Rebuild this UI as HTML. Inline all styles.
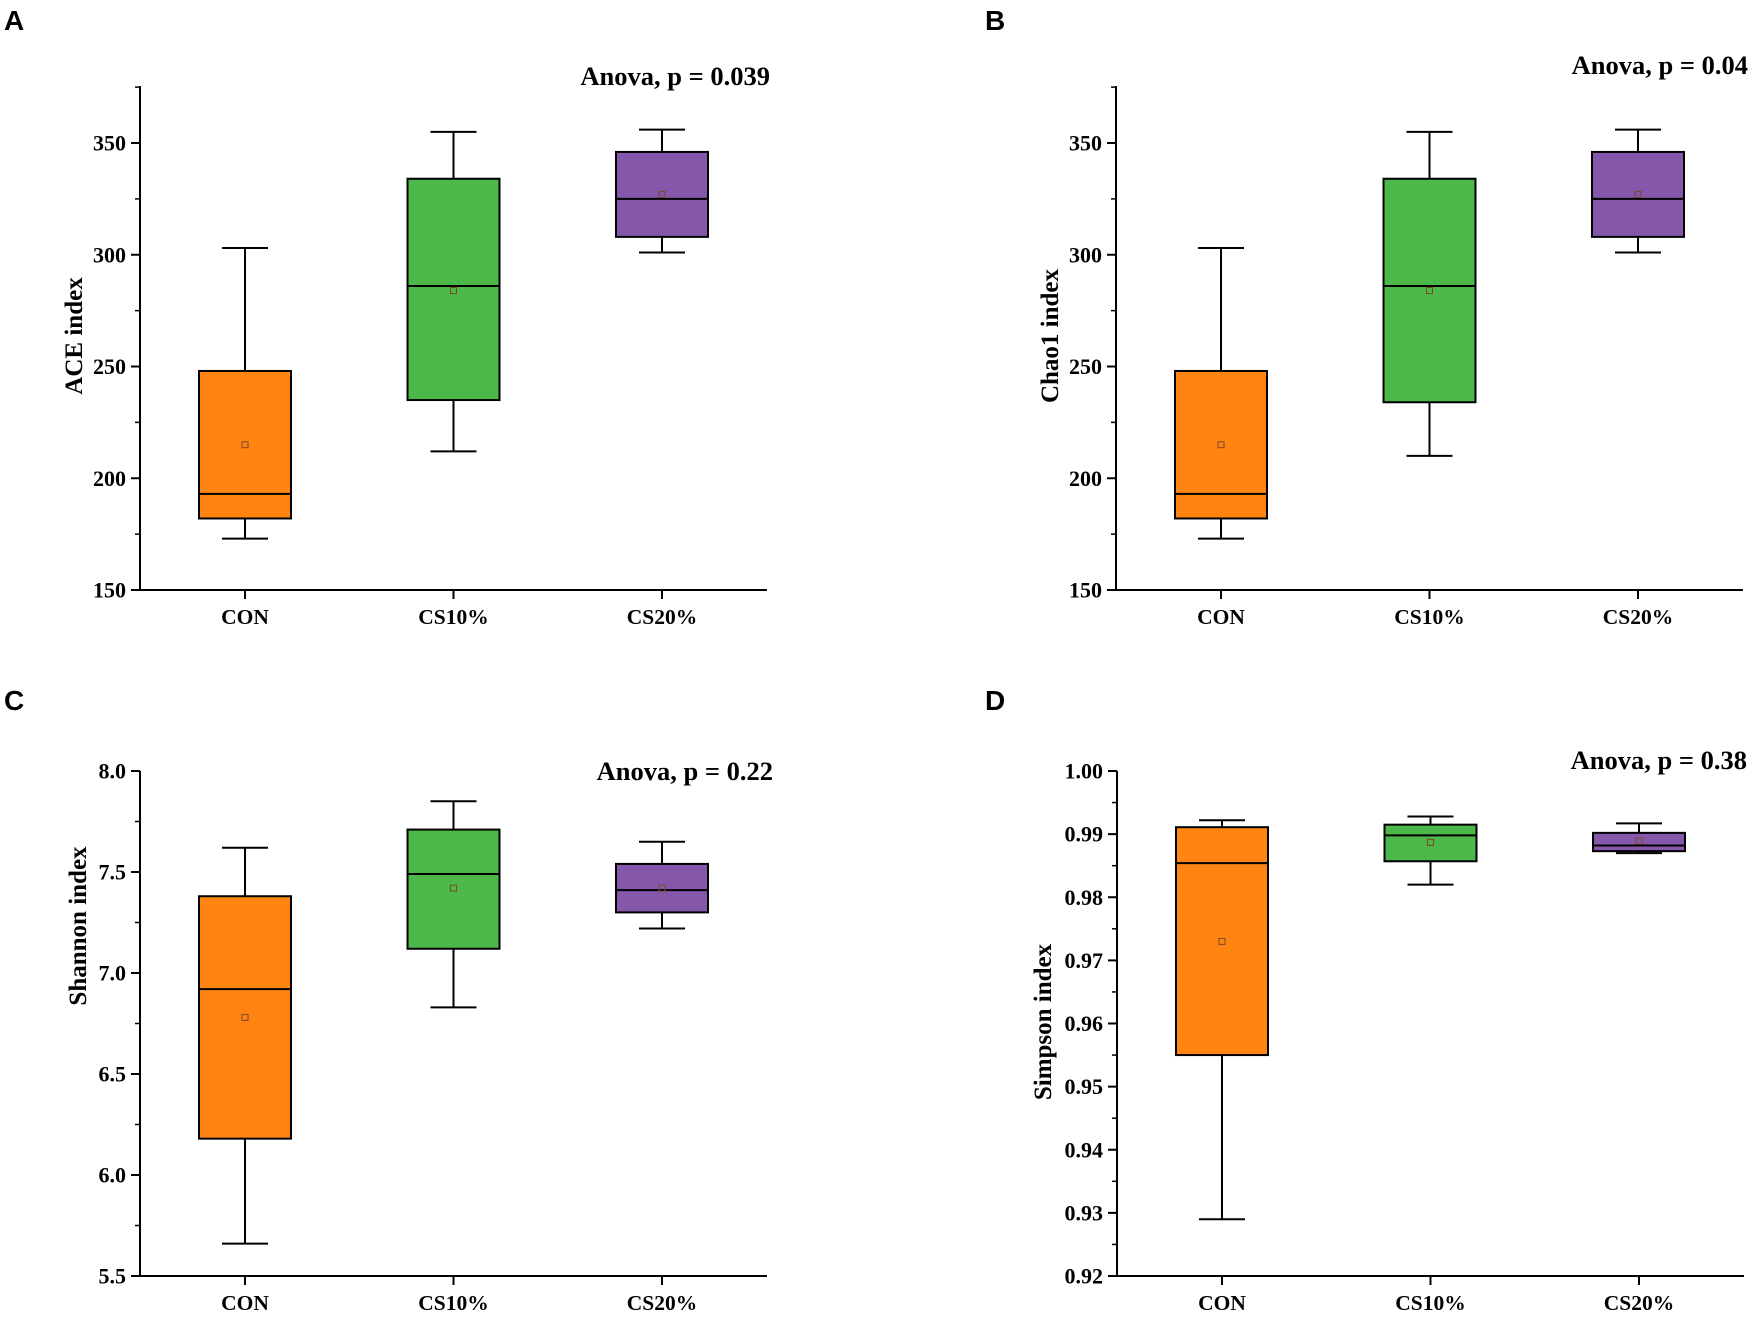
<!DOCTYPE html>
<html><head><meta charset="utf-8"><style>
html,body{margin:0;padding:0;background:#fff;}
svg{display:block;}
text{font-family:"Liberation Serif",serif;font-weight:bold;fill:#000;}
.lbl{font-family:"Liberation Sans",sans-serif;font-weight:bold;}
</style></head><body>
<svg id="fig" width="1755" height="1320" viewBox="0 0 1755 1320" xmlns="http://www.w3.org/2000/svg"></svg>
<script>
const categories = ["CON", "CS10%", "CS20%"];
const colors = ["#FF8412", "#4CB84A", "#8557AA"];
// panel A: ACE
const aceMin = [173, 212, 301];
const aceQ1 = [182, 235, 308];
const aceMed = [193, 286, 325];
const aceQ3 = [248, 334, 346];
const aceMax = [303, 355, 356];
const aceMean = [215, 284, 327];
const aceTicks = ["150", "200", "250", "300", "350"];
// panel B: Chao1
const chaoMin = [173, 210, 301];
const chaoQ1 = [182, 234, 308];
const chaoMed = [193, 286, 325];
const chaoQ3 = [248, 334, 346];
const chaoMax = [303, 355, 356];
const chaoMean = [215, 284, 327];
const chaoTicks = ["150", "200", "250", "300", "350"];
// panel C: Shannon
const shanMin = [5.66, 6.83, 7.22];
const shanQ1 = [6.18, 7.12, 7.30];
const shanMed = [6.92, 7.49, 7.41];
const shanQ3 = [7.38, 7.71, 7.54];
const shanMax = [7.62, 7.85, 7.65];
const shanMean = [6.78, 7.42, 7.42];
const shanTicks = ["5.5", "6.0", "6.5", "7.0", "7.5", "8.0"];
// panel D: Simpson
const simMin = [0.929, 0.982, 0.9870];
const simQ1 = [0.955, 0.9857, 0.9873];
const simMed = [0.9854, 0.9898, 0.9882];
const simQ3 = [0.9911, 0.9915, 0.9902];
const simMax = [0.9922, 0.9928, 0.9917];
const simMean = [0.973, 0.9887, 0.9889];
const simTicks = ["0.92", "0.93", "0.94", "0.95", "0.96", "0.97", "0.98", "0.99", "1.00"];

const NS = "http://www.w3.org/2000/svg";
const svg = document.getElementById("fig");
function mk(tag, attrs, parent) {
  const e = document.createElementNS(NS, tag);
  for (const k in attrs) e.setAttribute(k, attrs[k]);
  (parent || svg).appendChild(e);
  return e;
}

function panel(o) {
  const g = mk("g", {});
  
  
  const yScale = v => o.yBot - (v - o.vMin) / (o.vMax - o.vMin) * (o.yBot - o.yTopTick);
  const xScale = i => o.ax + 105 + i * 208.5;
  const L = mk("text", {x: o.lx, y: o.ly, "font-size": 28, class: "lbl"}, g);
  L.textContent = o.letter;
  
  
  const ya = mk("line", {x1: o.ax, y1: o.yAxisTop, x2: o.ax, y2: o.yBot, stroke: "#000", "stroke-width": 2}, g);
  
  
  const xa = mk("line", {x1: o.ax - 9, y1: o.yBot, x2: o.ax + 627, y2: o.yBot, stroke: "#000", "stroke-width": 2}, g);
  
  
  o.ticks.forEach((t, i) => {
    const v = parseFloat(t);
    const y = yScale(v);
    mk("line", {x1: o.ax - 9, y1: y, x2: o.ax, y2: y, stroke: "#000", "stroke-width": 2}, g);
    const tx = mk("text", {x: o.ax - 14, y: y + 7.5, "font-size": 22, "text-anchor": "end"}, g);
    tx.textContent = t;
    
    
    const mv = v + o.minorStep;
    if (mv <= o.vAxisTop + 1e-9) {
      const my = yScale(mv);
      mk("line", {x1: o.ax - 5, y1: my, x2: o.ax, y2: my, stroke: "#000", "stroke-width": 1.5}, g);
    }
  });
  const yt = mk("text", {x: 0, y: 0, "font-size": 25, "text-anchor": "middle",
    transform: `translate(${o.ytx},${o.yty}) rotate(-90)`}, g);
  yt.textContent = o.ytitle;
  
  
  const an = mk("text", {x: o.anx, y: o.any, "font-size": 26.5, "text-anchor": "end"}, g);
  an.textContent = o.anova;
  
  
  categories.forEach((c, i) => {
    const x = xScale(i);
    mk("line", {x1: x, y1: o.yBot, x2: x, y2: o.yBot + 9, stroke: "#000", "stroke-width": 2}, g);
    const cl = mk("text", {x: x, y: o.yBot + 34, "font-size": 21.5, "text-anchor": "middle"}, g);
    cl.textContent = c;
    
    
    const bg = mk("g", {}, g);
    
    
    const hw = 46, cw = 23;
    const yMin = yScale(o.min[i]), yMax = yScale(o.max[i]), yQ1 = yScale(o.q1[i]), yQ3 = yScale(o.q3[i]);
    mk("line", {x1: x, y1: yMax, x2: x, y2: yQ3, stroke: "#000", "stroke-width": 2}, bg);
    mk("line", {x1: x, y1: yQ1, x2: x, y2: yMin, stroke: "#000", "stroke-width": 2}, bg);
    mk("line", {x1: x - cw, y1: yMax, x2: x + cw, y2: yMax, stroke: "#000", "stroke-width": 2}, bg);
    mk("line", {x1: x - cw, y1: yMin, x2: x + cw, y2: yMin, stroke: "#000", "stroke-width": 2}, bg);
    mk("rect", {x: x - hw, y: yQ3, width: 2 * hw, height: yQ1 - yQ3, fill: colors[i], stroke: "#000", "stroke-width": 2}, bg);
    const ym = yScale(o.med[i]);
    mk("line", {x1: x - hw, y1: ym, x2: x + hw, y2: ym, stroke: "#000", "stroke-width": 2}, bg);
    const yMean = yScale(o.mean[i]);
    mk("rect", {x: x - 3, y: yMean - 3, width: 6, height: 6, fill: "none", stroke: "#7a4a2a", "stroke-width": 1}, bg);
  });
}

panel({id: "ace", letter: "A", lx: 4, ly: 30, ax: 140, yBot: 590, yTopTick: 143, yAxisTop: 86, vMin: 150, vMax: 350, vAxisTop: 375, minorStep: 25,
  ticks: aceTicks, min: aceMin, q1: aceQ1, med: aceMed, q3: aceQ3, max: aceMax, mean: aceMean,
  ytitle: "ACE index", ytx: 82, yty: 336, anova: "Anova, p = 0.039", anx: 770, any: 85});
panel({id: "chao1", letter: "B", lx: 985, ly: 30, ax: 1116, yBot: 590, yTopTick: 143, yAxisTop: 86, vMin: 150, vMax: 350, vAxisTop: 375, minorStep: 25,
  ticks: chaoTicks, min: chaoMin, q1: chaoQ1, med: chaoMed, q3: chaoQ3, max: chaoMax, mean: chaoMean,
  ytitle: "Chao1 index", ytx: 1058, yty: 336, anova: "Anova, p = 0.04", anx: 1748, any: 74});
panel({id: "shannon", letter: "C", lx: 4, ly: 710, ax: 140, yBot: 1276, yTopTick: 771, yAxisTop: 771, vMin: 5.5, vMax: 8.0, vAxisTop: 8.0, minorStep: 0.25,
  ticks: shanTicks, min: shanMin, q1: shanQ1, med: shanMed, q3: shanQ3, max: shanMax, mean: shanMean,
  ytitle: "Shannon index", ytx: 86, yty: 926, anova: "Anova, p = 0.22", anx: 773, any: 780});
panel({id: "simpson", letter: "D", lx: 985, ly: 710, ax: 1117, yBot: 1276, yTopTick: 771, yAxisTop: 771, vMin: 0.92, vMax: 1.00, vAxisTop: 1.00, minorStep: 0.005,
  ticks: simTicks, min: simMin, q1: simQ1, med: simMed, q3: simQ3, max: simMax, mean: simMean,
  ytitle: "Simpson index", ytx: 1051, yty: 1022, anova: "Anova, p = 0.38", anx: 1747, any: 769});
</script>
</body></html>
